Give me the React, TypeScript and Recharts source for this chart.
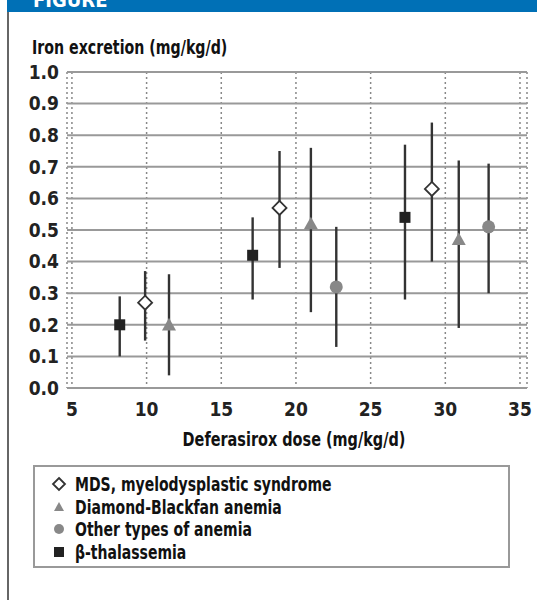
import { ScatterChart, Scatter, XAxis, YAxis, CartesianGrid, ErrorBar, Legend } from 'recharts';

const FONT = '"DejaVu Sans Condensed", "DejaVu Sans", Arial, sans-serif';

// dose (mg/kg/d), mean iron excretion, lower / upper whisker
const mdsX = [9.9, 18.9, 29.1];
const mdsY = [0.27, 0.57, 0.63];
const mdsLo = [0.15, 0.38, 0.4];
const mdsHi = [0.37, 0.75, 0.84];

const dbaX = [11.5, 21.0, 30.9];
const dbaY = [0.2, 0.52, 0.47];
const dbaLo = [0.04, 0.24, 0.19];
const dbaHi = [0.36, 0.76, 0.72];

const otherX = [22.7, 32.9];
const otherY = [0.32, 0.51];
const otherLo = [0.13, 0.3];
const otherHi = [0.51, 0.71];

const thalX = [8.2, 17.1, 27.3];
const thalY = [0.2, 0.42, 0.54];
const thalLo = [0.1, 0.28, 0.28];
const thalHi = [0.29, 0.54, 0.77];

const xTicks = [5, 10, 15, 20, 25, 30, 35];
const yTicks = [0, 0.1, 0.2, 0.3, 0.4, 0.5, 0.6, 0.7, 0.8, 0.9, 1.0];

const legendNames = [
  'MDS, myelodysplastic syndrome',
  'Diamond-Blackfan anemia',
  'Other types of anemia',
  'β-thalassemia',
];

const build = (xs: number[], ys: number[], lo: number[], hi: number[]) =>
  xs.map((x, i) => ({ x, y: ys[i], err: [ys[i] - lo[i], hi[i] - ys[i]] }));

const mdsData = build(mdsX, mdsY, mdsLo, mdsHi);
const dbaData = build(dbaX, dbaY, dbaLo, dbaHi);
const otherData = build(otherX, otherY, otherLo, otherHi);
const thalData = build(thalX, thalY, thalLo, thalHi);

const Diamond = ({ cx, cy, r = 7 }: any) => (
  <polygon
    points={`${cx},${cy - r} ${cx + r},${cy} ${cx},${cy + r} ${cx - r},${cy}`}
    fill="#fff"
    stroke="#333"
    strokeWidth={1.8}
  />
);
const Triangle = ({ cx, cy, r = 7 }: any) => (
  <polygon points={`${cx},${cy - r} ${cx + r},${cy + r * 0.8} ${cx - r},${cy + r * 0.8}`} fill="#888" />
);
const Dot = ({ cx, cy, r = 6.5 }: any) => <circle cx={cx} cy={cy} r={r} fill="#888" />;
const Square = ({ cx, cy, r = 5.5 }: any) => (
  <rect x={cx - r} y={cy - r} width={r * 2} height={r * 2} fill="#222" />
);

const icons = [Diamond, Triangle, Dot, Square];

const textStyle = {
  fontFamily: FONT,
  fontWeight: 'bold' as const,
  fontSize: 19,
  color: '#111',
  whiteSpace: 'nowrap' as const,
};

const LegendBox = () => (
  <div style={{ border: '2px solid #999', width: 473, height: 99, boxSizing: 'content-box' }}>
    <div style={{ paddingTop: 6, paddingLeft: 16 }}>
      {legendNames.map((name, i) => {
        const Icon = icons[i];
        return (
          <div key={name} style={{ display: 'flex', alignItems: 'center', height: 22.5 }}>
            <svg width={24} height={18} style={{ flex: 'none' }}>
              <Icon cx={8} cy={9} r={i === 0 ? 6 : 5} />
            </svg>
            <span style={{ ...textStyle, display: 'inline-block', transform: 'scaleX(0.82)', transformOrigin: 'left center' }}>
              {name}
            </span>
          </div>
        );
      })}
    </div>
  </div>
);

export default function App() {
  return (
    <div style={{ position: 'absolute', left: 0, top: 0, width: 537, height: 600, background: '#fff', overflow: 'hidden' }}>
      <div style={{ position: 'absolute', left: 7, top: 0, width: 530, height: 12, background: '#0070b6', overflow: 'hidden' }}>
        <div style={{ position: 'absolute', left: 26, top: -12, color: '#fff', fontFamily: FONT, fontWeight: 'bold', fontSize: 20 }}>
          FIGURE
        </div>
      </div>
      <div style={{ position: 'absolute', left: 7, top: 12, width: 2, height: 588, background: '#666' }} />
      <div style={{ ...textStyle, position: 'absolute', left: 32, top: 36, transform: 'scaleX(0.83)', transformOrigin: 'left center' }}>
        Iron excretion (mg/kg/d)
      </div>
      <div style={{ ...textStyle, position: 'absolute', left: 0, width: 588, top: 428, textAlign: 'center', transform: 'scaleX(0.845)', transformOrigin: '294px center' }}>
        Deferasirox dose (mg/kg/d)
      </div>
      <ScatterChart
        width={537}
        height={600}
        margin={{ top: 72, right: 10, bottom: 182, left: 8 }}
        style={{ position: 'absolute', left: 0, top: 0, fontFamily: FONT, fontWeight: 'bold' }}
      >
        <CartesianGrid horizontal={false} stroke="#888" strokeDasharray="2 3" strokeWidth={1.5} />
        <CartesianGrid vertical={false} stroke="#999" strokeWidth={2} />
        <XAxis
          type="number"
          dataKey="x"
          domain={[4.67, 35.47]}
          ticks={xTicks}
          axisLine={false}
          tickLine={false}
          height={30}
          tick={{ fill: '#222', fontSize: 19 }}
          tickMargin={9}
        />
        <YAxis
          type="number"
          dataKey="y"
          domain={[0, 1]}
          ticks={yTicks}
          axisLine={false}
          tickLine={false}
          width={59}
          tickMargin={2}
          tick={{ fill: '#222', fontSize: 19 }}
          tickFormatter={(v: number) => v.toFixed(1)}
        />
        <Legend
          verticalAlign="middle"
          align="center"
          layout="horizontal"
          content={<LegendBox />}
          wrapperStyle={{ position: 'absolute', left: 33, top: 465, width: 477, height: 103, bottom: 'auto', right: 'auto' }}
        />
        <Scatter name={legendNames[3]} data={thalData} shape={<Square />} isAnimationActive={false}>
          <ErrorBar dataKey="err" direction="y" width={0} stroke="#333" strokeWidth={2.4} />
        </Scatter>
        <Scatter name={legendNames[0]} data={mdsData} shape={<Diamond />} isAnimationActive={false}>
          <ErrorBar dataKey="err" direction="y" width={0} stroke="#333" strokeWidth={2.4} />
        </Scatter>
        <Scatter name={legendNames[1]} data={dbaData} shape={<Triangle />} isAnimationActive={false}>
          <ErrorBar dataKey="err" direction="y" width={0} stroke="#333" strokeWidth={2.4} />
        </Scatter>
        <Scatter name={legendNames[2]} data={otherData} shape={<Dot />} isAnimationActive={false}>
          <ErrorBar dataKey="err" direction="y" width={0} stroke="#333" strokeWidth={2.4} />
        </Scatter>
      </ScatterChart>
    </div>
  );
}
